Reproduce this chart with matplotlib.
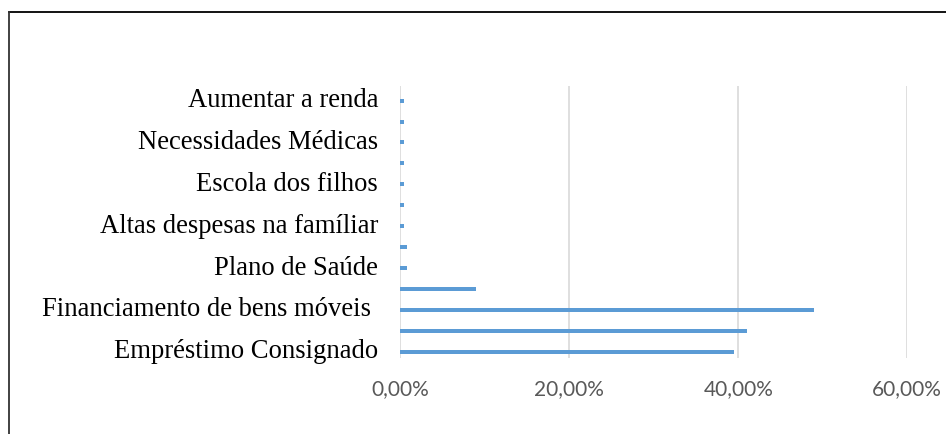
import matplotlib.pyplot as plt
from matplotlib.lines import Line2D
from matplotlib.transforms import ScaledTranslation
import numpy as np

# categories from bottom to top; Excel hides every other label
labels = ["Empréstimo Consignado", "", "Financiamento de bens móveis ", "",
          "Plano de Saúde", "", "Altas despesas na famíliar", "",
          "Escola dos filhos", "", "Necessidades Médicas", "", "Aumentar a renda"]
values = [39.5, 41.0, 48.9, 9.0, 0.75, 0.75, 0.4, 0.4, 0.4, 0.4, 0.4, 0.4, 0.4]
xticks = [0, 20, 40, 60]
xtick_labels = ["0,00%", "20,00%", "40,00%", "60,00%"]

fig = plt.figure(figsize=(9.46, 4.35), dpi=100)
ax = fig.add_axes([400.3 / 946, 1 - 358.7 / 435, 507 / 946, 272 / 435])

y = np.arange(len(labels))
ax.barh(y, values, height=0.19, color="#5b9bd5", zorder=3)

ax.set_xlim(0, 60)
ax.set_ylim(-0.287, len(labels) - 0.287)
ax.set_xticks(xticks)
ax.set_xticklabels(xtick_labels, fontsize=15, color="#595959", family="Lato")
ax.set_yticks(y)
ax.set_yticklabels(labels, fontsize=19.2, family="Liberation Serif", color="black")
ax.tick_params(axis="both", length=0)
ax.tick_params(axis="x", pad=15)
ax.tick_params(axis="y", pad=16)
ax.grid(axis="x", color="#d9d9d9", linewidth=1.2, zorder=0)
for s in ax.spines.values():
    s.set_visible(False)

# labels sit a little above the bars in the original
shift = ScaledTranslation(0, 0.04, fig.dpi_scale_trans)
for lab in ax.get_yticklabels():
    lab.set_transform(lab.get_transform() + shift)

# frame around the chart (cut off at right and bottom)
top = 1 - 12.5 / 435
left = 8.5 / 946
fig.add_artist(Line2D([left, 1], [top, top], color="black", lw=1.3, transform=fig.transFigure))
fig.add_artist(Line2D([left, left], [0, top], color="#333333", lw=1.3, transform=fig.transFigure))

fig.savefig("out.png", dpi=100)
